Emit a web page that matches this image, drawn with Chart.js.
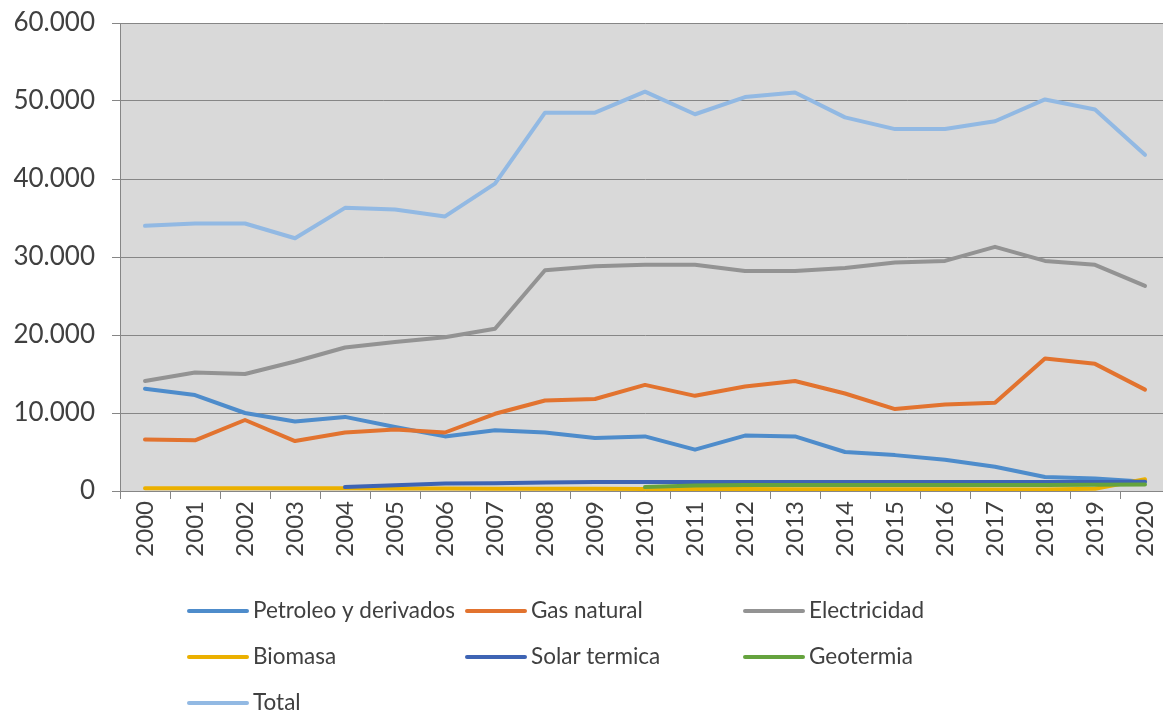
<!DOCTYPE html>
<html>
<head>
<meta charset="utf-8">
<script src="https://cdn.jsdelivr.net/npm/chart.js@4.4.1/dist/chart.umd.min.js"></script>
<style>
  html, body { margin: 0; padding: 0; background: #ffffff; overflow: hidden; }
  #wrap { position: absolute; left: 0; top: 0; width: 1170px; height: 714px; }
  canvas { display: block; }
</style>
</head>
<body>
<div id="wrap"><canvas id="c" width="1170" height="714"></canvas></div>
<script>
const years = ['2000','2001','2002','2003','2004','2005','2006','2007','2008','2009','2010',
               '2011','2012','2013','2014','2015','2016','2017','2018','2019','2020'];
const petroleo = [13100,12300,10000,8900,9500,8200,7000,7800,7500,6800,7000,5300,7100,7000,5000,4600,4000,3100,1800,1600,1200];
const gasNatural = [6600,6500,9100,6400,7500,7900,7500,9900,11600,11800,13600,12200,13400,14100,12500,10500,11100,11300,17000,16300,13000];
const electricidad = [14100,15200,15000,16600,18400,19100,19700,20800,28300,28800,29000,29000,28200,28200,28600,29300,29500,31300,29500,29000,26300];
const biomasa = [350,350,350,350,340,330,310,300,290,280,270,260,250,240,230,220,210,200,200,300,1500];
const solarTermica = [null,null,null,null,500,750,950,1000,1100,1150,1150,1150,1150,1150,1150,1150,1150,1150,1150,1150,1200];
const geotermia = [null,null,null,null,null,null,null,null,null,null,500,700,780,780,780,780,780,780,780,800,820];
const total = [34000,34300,34300,32400,36300,36100,35200,39400,48500,48500,51200,48300,50500,51100,47900,46400,46400,47400,50200,48900,43100];

const seriesNames = ['Petroleo y derivados','Gas natural','Electricidad','Biomasa','Solar termica','Geotermia','Total'];
const seriesData = [petroleo, gasNatural, electricidad, biomasa, solarTermica, geotermia, total];
const seriesColors = ['#4E8CCB','#E2732F','#939393','#EBB000','#3E64B4','#65A33E','#92B9E3'];

const yTicks = [0,10000,20000,30000,40000,50000,60000];

function fmt(v) {
  return String(v).replace(/\B(?=(\d{3})+(?!\d))/g, '.');
}

const plotBg = {
  id: 'plotBg',
  beforeDraw(chart) {
    const {ctx, chartArea: a} = chart;
    ctx.save();
    ctx.fillStyle = '#D9D9D9';
    ctx.fillRect(a.left, a.top, a.right - a.left, a.bottom - a.top);
    ctx.restore();
  }
};

const customLegend = {
  id: 'customLegend',
  afterDraw(chart) {
    const ctx = chart.ctx;
    const colX = [189, 467, 745];
    const rowY = [611, 657, 703];
    ctx.save();
    ctx.font = '22.5px Lato';
    ctx.textBaseline = 'middle';
    ctx.textAlign = 'left';
    chart.data.datasets.forEach((ds, i) => {
      const x = colX[i % 3];
      const y = rowY[Math.floor(i / 3)];
      ctx.strokeStyle = ds.borderColor;
      ctx.lineWidth = 4;
      ctx.lineCap = 'round';
      ctx.beginPath();
      ctx.moveTo(x, y);
      ctx.lineTo(x + 58, y);
      ctx.stroke();
      ctx.fillStyle = '#404040';
      ctx.fillText(ds.label, x + 64, y);
    });
    ctx.restore();
  }
};

const datasets = seriesNames.map((name, i) => ({
  label: name,
  data: seriesData[i],
  borderColor: seriesColors[i],
  backgroundColor: seriesColors[i],
  borderWidth: 4,
  pointRadius: 0,
  pointHoverRadius: 0,
  tension: 0,
  fill: false,
  spanGaps: false,
  borderCapStyle: 'round',
  borderJoinStyle: 'round',
  order: seriesNames.length - i
}));

new Chart(document.getElementById('c'), {
  type: 'line',
  data: { labels: years, datasets: datasets },
  options: {
    responsive: false,
    animation: false,
    layout: { padding: { top: 23, right: 0, bottom: 0, left: 0 } },
    plugins: {
      legend: { display: false },
      tooltip: { enabled: false }
    },
    scales: {
      x: {
        type: 'category',
        offset: true,
        grid: {
          offset: true,
          drawOnChartArea: false,
          drawTicks: true,
          tickLength: 8,
          color: '#868686'
        },
        border: { display: true, color: '#868686', width: 1 },
        ticks: {
          autoSkip: false,
          maxRotation: 90,
          minRotation: 90,
          padding: 2,
          color: '#404040',
          font: { family: 'Lato', size: 24 }
        },
        afterFit(scale) {
          scale.height = 223;
          scale.paddingLeft = 0;
          scale.paddingRight = 0;
        }
      },
      y: {
        min: 0,
        max: 60000,
        afterBuildTicks(scale) { scale.ticks = yTicks.map(v => ({ value: v })); },
        grid: {
          color: '#868686',
          tickLength: 8,
          drawTicks: true
        },
        border: { display: true, color: '#868686', width: 1 },
        ticks: {
          padding: 17,
          color: '#404040',
          font: { family: 'Lato', size: 26 },
          callback: (v) => fmt(v)
        },
        afterFit(scale) {
          scale.width = 120;
          scale.paddingTop = 0;
          scale.paddingBottom = 0;
        }
      }
    }
  },
  plugins: [plotBg, customLegend]
});
</script>
</body>
</html>
